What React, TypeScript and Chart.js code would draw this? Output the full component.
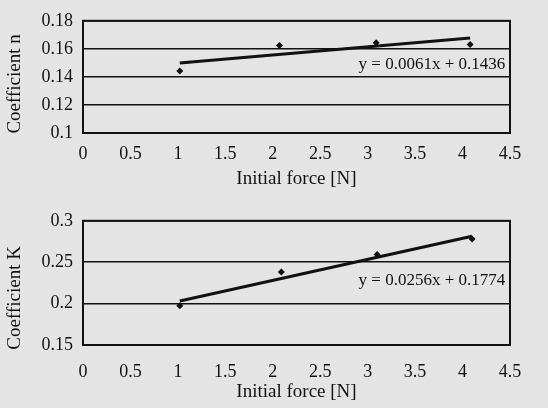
import { useEffect, useRef } from 'react';
import { Chart, registerables } from 'chart.js';

Chart.register(...registerables);

// ---- data ----
const forceN = [1.02, 2.07, 3.09, 4.08];
const coefN = [0.1442, 0.1624, 0.1643, 0.1631];
const trendForceN = [1.02, 4.08];
const trendN = [0.1499, 0.1677];
const eqN = 'y = 0.0061x + 0.1436';
const eqPosN = [4.45, 0.1486];

const forceK = [1.02, 2.09, 3.1, 4.1];
const coefK = [0.1973, 0.2383, 0.2594, 0.2781];
const trendForceK = [1.02, 4.1];
const trendK = [0.2032, 0.2813];
const eqK = 'y = 0.0256x + 0.1774';
const eqPosK = [4.45, 0.2278];

const xTickLabels = ['0', '0.5', '1', '1.5', '2', '2.5', '3', '3.5', '4', '4.5'];
const yTickLabelsN = ['0.1', '0.12', '0.14', '0.16', '0.18'];
const yTickLabelsK = ['0.15', '0.2', '0.25', '0.3'];

const FONT = '"Liberation Serif", "Times New Roman", serif';
const INK = '#111';

type PanelOpts = {
  xs: number[];
  ys: number[];
  tx: number[];
  ty: number[];
  eq: string;
  eqPos: number[];
  yMin: number;
  yMax: number;
  yStep: number;
  yLabels: string[];
  yTitle: string;
  yTitleShift: number;
  padTop: number;
  xAxisH: number;
  xTickPad: number;
  xTitlePadBottom: number;
};

function makeConfig(o: PanelOpts): any {
  const framePlugin = {
    id: 'frameAndEq',
    afterDraw(chart: any) {
      const { ctx, chartArea } = chart;
      ctx.save();
      ctx.strokeStyle = INK;
      ctx.lineWidth = 2;
      ctx.strokeRect(chartArea.left, chartArea.top, chartArea.right - chartArea.left, chartArea.bottom - chartArea.top);
      const px = chart.scales.x.getPixelForValue(o.eqPos[0]);
      const py = chart.scales.y.getPixelForValue(o.eqPos[1]);
      ctx.fillStyle = INK;
      ctx.font = `17px ${FONT}`;
      ctx.textAlign = 'right';
      ctx.textBaseline = 'middle';
      ctx.fillText(o.eq, px, py);
      // y-axis title (rotated), slightly below the plot centre as in the reference
      ctx.font = `19px ${FONT}`;
      ctx.textAlign = 'center';
      ctx.translate(15, (chartArea.top + chartArea.bottom) / 2 + o.yTitleShift);
      ctx.rotate(-Math.PI / 2);
      ctx.fillText(o.yTitle, 0, 0);
      ctx.restore();
    },
  };
  return {
    type: 'scatter',
    data: {
      datasets: [
        {
          type: 'line',
          data: o.tx.map((x, i) => ({ x, y: o.ty[i] })),
          borderColor: INK,
          borderWidth: 3,
          pointRadius: 0,
          fill: false,
          tension: 0,
        },
        {
          data: o.xs.map((x, i) => ({ x, y: o.ys[i] })),
          pointStyle: 'rectRot',
          pointRadius: 3.5,
          backgroundColor: INK,
          borderColor: INK,
          borderWidth: 0,
        },
      ],
    },
    options: {
      animation: false,
      responsive: false,
      layout: { padding: { top: o.padTop, right: 38, left: 0, bottom: 0 } },
      plugins: { legend: { display: false }, tooltip: { enabled: false } },
      scales: {
        x: {
          type: 'linear',
          min: 0,
          max: 4.5,
          ticks: {
            stepSize: 0.5,
            callback: (_v: any, i: number) => xTickLabels[i],
            color: INK,
            font: { family: FONT, size: 18 },
            padding: o.xTickPad,
            maxRotation: 0,
            autoSkip: false,
          },
          grid: { display: false, drawTicks: false },
          border: { display: false },
          title: {
            display: true,
            text: 'Initial force [N]',
            color: INK,
            font: { family: FONT, size: 19 },
            padding: { top: 0, bottom: o.xTitlePadBottom },
          },
          afterFit: (s: any) => {
            s.height = o.xAxisH;
          },
        },
        y: {
          type: 'linear',
          min: o.yMin,
          max: o.yMax,
          ticks: {
            stepSize: o.yStep,
            callback: (_v: any, i: number) => o.yLabels[i],
            color: INK,
            font: { family: FONT, size: 18 },
            padding: 10,
          },
          grid: { color: INK, lineWidth: 1.5, drawTicks: false },
          border: { display: false },
          title: { display: false },
          afterFit: (s: any) => {
            s.width = 83;
          },
        },
      },
    },
    plugins: [framePlugin],
  };
}

function Panel({ width, height, opts }: { width: number; height: number; opts: PanelOpts }) {
  const ref = useRef<HTMLCanvasElement | null>(null);
  useEffect(() => {
    if (!ref.current) return;
    const chart = new Chart(ref.current, makeConfig(opts));
    return () => chart.destroy();
  }, []);
  return <canvas ref={ref} width={width} height={height} style={{ display: 'block', width, height }} />;
}

export default function App() {
  return (
    <div
      style={{
        position: 'fixed',
        left: 0,
        top: 0,
        width: 548,
        height: 408,
        background: '#e4e4e4',
        overflow: 'hidden',
      }}
    >
      <Panel
        width={548}
        height={200}
        opts={{
          xs: forceN,
          ys: coefN,
          tx: trendForceN,
          ty: trendN,
          eq: eqN,
          eqPos: eqPosN,
          yMin: 0.1,
          yMax: 0.18,
          yStep: 0.02,
          yLabels: yTickLabelsN,
          yTitle: 'Coefficient n',
          yTitleShift: 7,
          padTop: 16,
          xAxisH: 67,
          xTickPad: 10,
          xTitlePadBottom: 10,
        }}
      />
      <Panel
        width={548}
        height={208}
        opts={{
          xs: forceK,
          ys: coefK,
          tx: trendForceK,
          ty: trendK,
          eq: eqK,
          eqPos: eqPosK,
          yMin: 0.15,
          yMax: 0.3,
          yStep: 0.05,
          yLabels: yTickLabelsK,
          yTitle: 'Coefficient K',
          yTitleShift: 15,
          padTop: 17,
          xAxisH: 63,
          xTickPad: 16,
          xTitlePadBottom: 5,
        }}
      />
    </div>
  );
}
